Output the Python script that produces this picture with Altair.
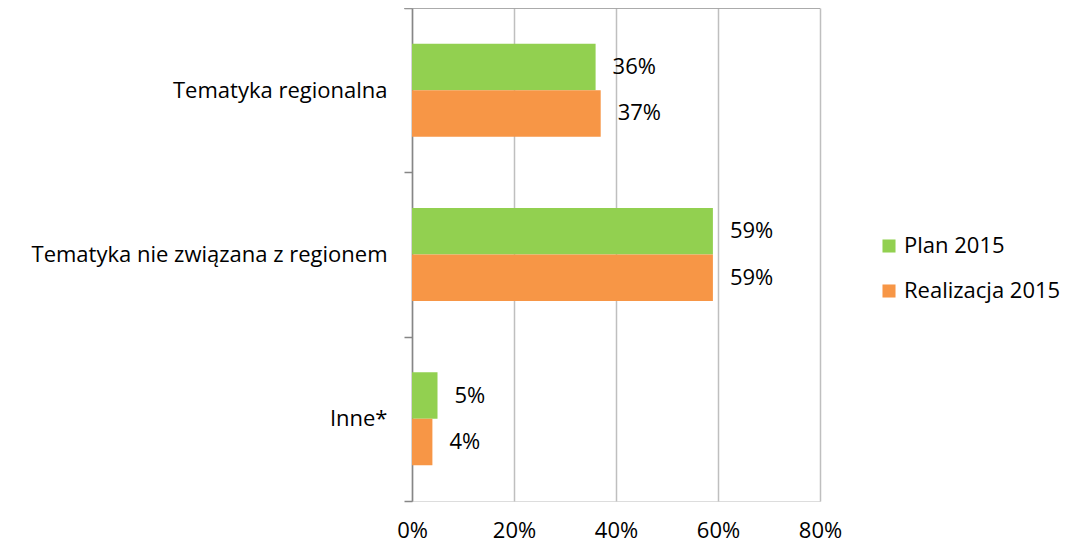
import altair as alt
import pandas as pd

categories = ["Tematyka regionalna", "Tematyka nie związana z regionem", "Inne*"]
series = ["Plan 2015", "Realizacja 2015"]
plan_2015 = [0.36, 0.59, 0.05]
realizacja_2015 = [0.37, 0.59, 0.04]
x_ticks = [0.0, 0.2, 0.4, 0.6, 0.8]
colors = ["#92d050", "#f79646"]

rows = []
for c, p, r in zip(categories, plan_2015, realizacja_2015):
    rows.append({"kategoria": c, "seria": series[0], "wartosc": p})
    rows.append({"kategoria": c, "seria": series[1], "wartosc": r})
df = pd.DataFrame(rows)

FONT = "Open Sans"
FS = 22

y_enc = alt.Y(
    "kategoria:N",
    sort=categories,
    title=None,
    scale=alt.Scale(paddingInner=0, paddingOuter=0),
    axis=alt.Axis(
        tickBand="extent",
        domainColor="#868686",
        domainWidth=1.5,
        tickColor="#868686",
        tickWidth=1.5,
        tickSize=8,
        labelPadding=17,
        labelFontSize=FS,
        labelFont=FONT,
        labelColor="#000000",
        labelLimit=500,
    ),
)
yoff = alt.YOffset(
    "seria:N", sort=series, scale=alt.Scale(paddingInner=0, paddingOuter=0.767)
)
x_enc = alt.X(
    "wartosc:Q",
    title=None,
    scale=alt.Scale(domain=[0, 0.8], nice=False),
    axis=alt.Axis(
        values=x_ticks,
        format=".0%",
        grid=True,
        gridColor="#bfbfbf",
        gridWidth=1.5,
        domain=False,
        ticks=False,
        labelFlush=False,
        labelPadding=19,
        labelFontSize=FS,
        labelFont=FONT,
        labelColor="#000000",
    ),
)

bars = alt.Chart(df).mark_bar().encode(
    x=x_enc,
    y=y_enc,
    yOffset=yoff,
    color=alt.Color(
        "seria:N",
        sort=series,
        scale=alt.Scale(domain=series, range=colors),
        legend=alt.Legend(
            title=None,
            orient="none",
            legendX=466,
            legendY=227,
            symbolType="square",
            symbolSize=170,
            symbolStrokeWidth=0,
            labelFontSize=FS,
            labelFont=FONT,
            labelColor="#000000",
            rowPadding=23,
            labelOffset=4,
        ),
    ),
)

labels = alt.Chart(df).mark_text(
    align="left", baseline="middle", dx=17, fontSize=FS, font=FONT, color="#000000"
).encode(
    x="wartosc:Q",
    y=alt.Y("kategoria:N", sort=categories),
    yOffset=yoff,
    text=alt.Text("wartosc:Q", format=".0%"),
)

top_line = alt.Chart(pd.DataFrame({"k": [0]})).mark_rule(color="#9a9a9a", strokeWidth=1.5).encode(
    x=alt.value(-8), x2=alt.value(408), y=alt.value(0)
)

chart = (
    alt.layer(bars, labels, top_line)
    .properties(
        width=408,
        height=493,
        autosize=alt.AutoSizeParams(type="none"),
        padding={"left": 404, "top": 0, "right": 240, "bottom": 46},
    )
    .configure_view(stroke=None)
    .configure(font=FONT)
)

chart.save("out.html", embed_options={"renderer": "svg", "actions": False})
